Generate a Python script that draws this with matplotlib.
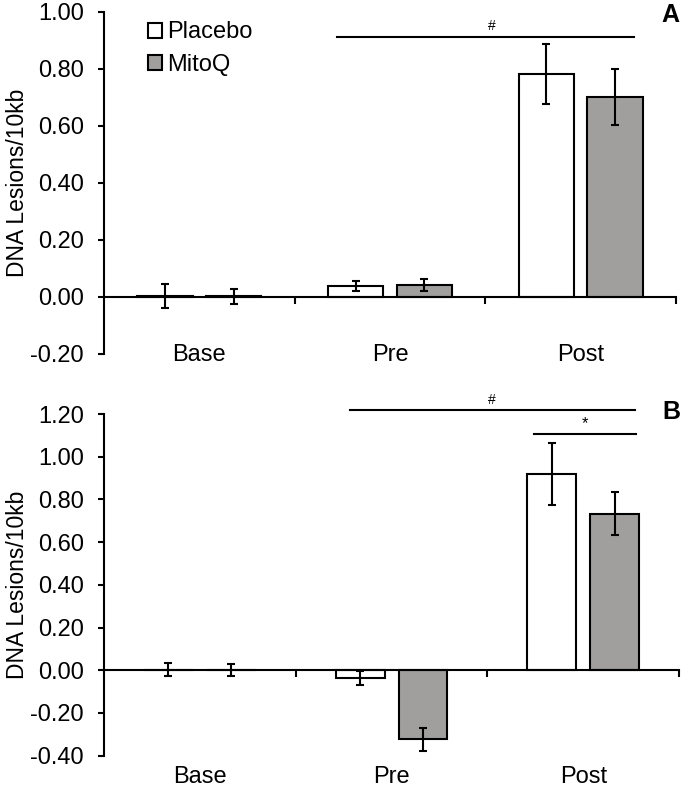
import numpy as np
import matplotlib.pyplot as plt
from matplotlib.patches import Patch

plt.rcParams['font.family'] = ['Liberation Sans', 'DejaVu Sans']

categories = ['Base', 'Pre', 'Post']
series = ['Placebo', 'MitoQ']
colors = ['white', '#A19E9E']

# panel A
a_placebo = [0.003, 0.038, 0.782]
a_placebo_err = [0.041, 0.017, 0.105]
a_mitoq = [0.002, 0.042, 0.702]
a_mitoq_err = [0.026, 0.021, 0.097]

# panel B
b_placebo = [0.003, -0.036, 0.920]
b_placebo_err = [0.031, 0.032, 0.144]
b_mitoq = [0.002, -0.324, 0.734]
b_mitoq_err = [0.027, 0.056, 0.100]

FS = 17

fig = plt.figure(figsize=(6.88, 7.88), dpi=100)
axA = fig.add_axes([0.1512, 0.5508, 0.8314, 0.434])
axB = fig.add_axes([0.1512, 0.041, 0.8358, 0.4336])

x = np.arange(len(categories))


def draw_panel(ax, vals, errs, width, offset, ylim, yticks, label_y):
    for i, (v, e) in enumerate(zip(vals, errs)):
        pos = x + (offset if i == 1 else -offset)
        ax.bar(pos, v, width=width, color=colors[i], edgecolor='black',
               linewidth=1.5, label=series[i], zorder=2)
        ax.errorbar(pos, v, yerr=e, fmt='none', ecolor='black', elinewidth=1.5,
                    capsize=2.6, capthick=1.5, zorder=3)
    ax.set_xlim(-0.5, 2.5)
    ax.set_ylim(*ylim)
    ax.set_yticks(yticks)
    ax.set_yticklabels([f'{t:.2f}' for t in yticks], fontsize=FS)
    ax.set_ylabel('DNA Lesions/10kb', fontsize=16.5, labelpad=1)
    ax.spines['top'].set_visible(False)
    ax.spines['right'].set_visible(False)
    ax.spines['left'].set_linewidth(1.5)
    ax.spines['bottom'].set_linewidth(1.5)
    ax.spines['bottom'].set_position(('data', 0))
    ax.tick_params(axis='y', length=4.5, width=1.5, pad=10)
    ax.set_xticks([0.5, 1.5, 2.5])
    ax.set_xticklabels([])
    ax.tick_params(axis='x', length=5, width=1.5)
    for xi, c in zip(x, categories):
        ax.text(xi, label_y, c, transform=ax.get_xaxis_transform(),
                ha='center', va='center', fontsize=FS)


draw_panel(axA, [a_placebo, a_mitoq], [a_placebo_err, a_mitoq_err], 0.29, 0.18,
           (-0.2, 1.0), np.arange(-0.2, 1.01, 0.2), -0.003)
draw_panel(axB, [b_placebo, b_mitoq], [b_placebo_err, b_mitoq_err], 0.255, 0.164,
           (-0.4, 1.2), np.arange(-0.4, 1.21, 0.2), -0.061)

# significance marks
axA.plot([0.722, 2.279], [0.912, 0.912], color='black', lw=1.5, clip_on=False)
axA.text(1.535, 0.925, '#', ha='center', va='bottom', fontsize=10)
axA.text(2.47, 0.99, 'A', ha='center', va='center', fontsize=18,
         fontweight='bold', clip_on=False)

axB.plot([0.783, 2.268], [1.218, 1.218], color='black', lw=1.5, clip_on=False)
axB.text(1.524, 1.232, '#', ha='center', va='bottom', fontsize=10)
axB.plot([1.743, 2.273], [1.108, 1.108], color='black', lw=1.5, clip_on=False)
axB.text(2.009, 1.118, '*', ha='center', va='bottom', fontsize=12)
axB.text(2.458, 1.21, 'B', ha='center', va='center', fontsize=18,
         fontweight='bold', clip_on=False)

handles = [Patch(facecolor=colors[i], edgecolor='black', linewidth=1.5, label=series[i])
           for i in range(2)]
axA.legend(handles=handles, loc='upper left', bbox_to_anchor=(0.06, 1.0),
           frameon=False, fontsize=FS, handlelength=0.6, handleheight=0.6,
           handletextpad=0.2, labelspacing=0.45, borderaxespad=0)

fig.savefig('out.png', dpi=100)
